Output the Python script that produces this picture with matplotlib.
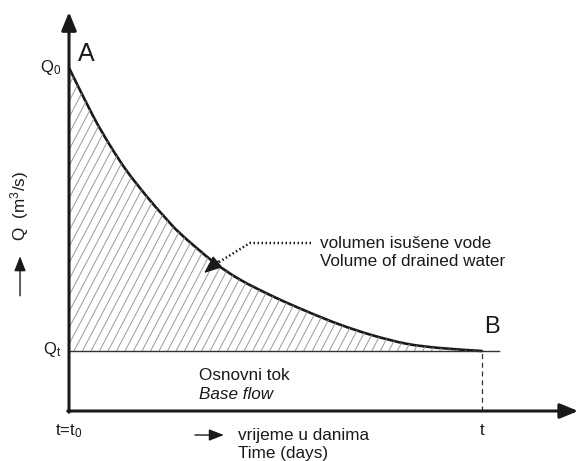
import numpy as np
import matplotlib
matplotlib.use("Agg")
import matplotlib.pyplot as plt
from matplotlib.patches import PathPatch
from matplotlib.path import Path
from matplotlib.collections import LineCollection

plt.rcParams['font.family'] = ['Liberation Sans', 'DejaVu Sans']
plt.rcParams['mathtext.fontset'] = 'custom'
plt.rcParams['mathtext.rm'] = 'Liberation Sans'
plt.rcParams['mathtext.it'] = 'Liberation Sans:italic'

# recession curve (t in days from t0, Q in arbitrary units)
t_days = [0.0, 0.58, 0.99, 1.40, 1.89, 2.28, 2.69, 3.49, 4.14, 4.94, 5.76, 6.56, 7.36, 8.18, 8.98, 10.0]
q_flow = [5.72, 4.92, 4.43, 4.00, 3.57, 3.26, 2.96, 2.49, 2.19, 1.91, 1.66, 1.44, 1.26, 1.12, 1.05, 1.00]
q_base = 1.0      # Qt
t_end = 10.0      # t

ink = '#1a1a1a'
fs = 12.3


def smooth_path(xs, ys):
    # Catmull-Rom through the read points, drawn as cubic Bezier segments
    pts = np.column_stack([xs, ys])
    verts = [pts[0]]
    codes = [Path.MOVETO]
    for i in range(len(pts) - 1):
        p0 = pts[i - 1] if i > 0 else pts[i]
        p1, p2 = pts[i], pts[i + 1]
        p3 = pts[i + 2] if i + 2 < len(pts) else pts[i + 1]
        verts += [p1 + (p2 - p0) / 6.0, p2 - (p3 - p1) / 6.0, p2]
        codes += [Path.CURVE4] * 3
    return verts, codes


fig = plt.figure(figsize=(5.79, 4.61), dpi=100)
ax = fig.add_axes([0, 0, 1, 1])
ax.set_xlim(-1.671, 12.349)
ax.set_ylim(-0.833, 6.85)
ax.axis('off')

verts, codes = smooth_path(t_days, q_flow)

# hatched volume between curve and base flow
area_path = Path(verts + [(0.0, q_base), (0.0, q_flow[0])],
                 codes + [Path.LINETO, Path.LINETO])
area = PathPatch(area_path, facecolor='none', edgecolor='none')
ax.add_patch(area)
slope = 1.31
segs = []
for c in np.arange(-4.0, 10.5, 0.206):
    segs.append([(c, q_base), (c + 5.0 / slope, q_base + 5.0)])
hatch = LineCollection(segs, colors='#9a9a9a', linewidths=0.7)
hatch.set_clip_path(area)
ax.add_collection(hatch)

# curve A-B
ax.add_patch(PathPatch(Path(verts, codes), facecolor='none', edgecolor=ink,
                       lw=1.9, capstyle='round'))

# base flow line and dashed t marker
ax.plot([0, 10.4], [q_base, q_base], color='#333333', lw=1.0)
ax.plot([t_end, t_end], [0, q_base], color='#333333', lw=0.9, linestyle=(0, (4, 3)))

# axes with arrows
ax.annotate('', xy=(0, 6.65), xytext=(0, -0.02),
            arrowprops=dict(arrowstyle='-|>,head_length=1.1,head_width=0.45',
                            lw=2.2, color=ink, shrinkA=0, shrinkB=0))
ax.annotate('', xy=(12.33, 0), xytext=(-0.03, 0),
            arrowprops=dict(arrowstyle='-|>,head_length=1.1,head_width=0.45',
                            lw=2.2, color=ink, shrinkA=0, shrinkB=0))

# labels on the axes
ax.text(0.41, 5.95, 'A', fontsize=18, ha='center', va='center', color=ink)
ax.text(10.24, 1.40, 'B', fontsize=17, ha='center', va='center', color=ink)
ax.text(-0.19, 5.72, r'$\mathregular{Q_0}$', fontsize=12, ha='right', va='center', color=ink)
ax.text(-0.19, 1.02, r'$\mathregular{Q_t}$', fontsize=12, ha='right', va='center', color=ink)
ax.text(0.0, -0.33, r't=$\mathregular{t_0}$', fontsize=12, ha='center', va='center', color=ink)
ax.text(t_end, -0.33, 't', fontsize=12, ha='center', va='center', color=ink)

# y label with small arrow
ax.text(-1.186, 3.42, r'Q  (m$^\mathregular{3}$/s)', fontsize=fs, rotation=90,
        ha='center', va='center', color=ink)
ax.annotate('', xy=(-1.186, 2.58), xytext=(-1.186, 1.92),
            arrowprops=dict(arrowstyle='-|>,head_length=0.9,head_width=0.35',
                            lw=1.0, color=ink, shrinkA=0, shrinkB=0))

# base flow text
ax.text(3.15, 0.60, 'Osnovni tok', fontsize=fs, ha='left', va='center', color=ink)
ax.text(3.15, 0.28, 'Base flow', fontsize=fs, style='italic', ha='left', va='center', color=ink)

# time label with small arrow
ax.annotate('', xy=(3.75, -0.40), xytext=(3.05, -0.40),
            arrowprops=dict(arrowstyle='-|>,head_length=0.9,head_width=0.35',
                            lw=1.0, color=ink, shrinkA=0, shrinkB=0))
ax.text(4.09, -0.41, 'vrijeme u danima', fontsize=fs, ha='left', va='center', color=ink)
ax.text(4.09, -0.70, 'Time (days)', fontsize=fs, ha='left', va='center', color=ink)

# volume leader
ax.plot([5.86, 4.38, 3.58], [2.80, 2.80, 2.46], color=ink, lw=1.8,
        linestyle=(0, (0.6, 1.0)))
ax.annotate('', xy=(3.27, 2.30), xytext=(3.62, 2.50),
            arrowprops=dict(arrowstyle='-|>,head_length=1.1,head_width=0.45',
                            lw=1.0, color=ink, shrinkA=0, shrinkB=0))
ax.text(6.08, 2.80, 'volumen isušene vode', fontsize=fs, ha='left', va='center', color=ink)
ax.text(6.08, 2.49, 'Volume of drained water', fontsize=fs, ha='left', va='center', color=ink)

fig.savefig('out.png', dpi=100, facecolor='white')
